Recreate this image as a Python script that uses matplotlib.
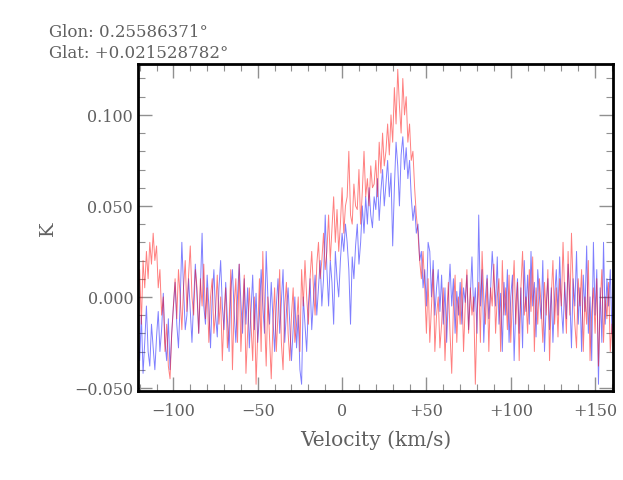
import numpy as np
import matplotlib
matplotlib.use("Agg")
import matplotlib.pyplot as plt
from matplotlib.ticker import MultipleLocator, FuncFormatter

glon = "0.25586371"
glat = "+0.021528782"

# channel velocities (km/s), 1 km/s channels
velocity = np.arange(-121, 161)

# antenna temperature in mK
blue_mk = [
    -20, -35, -10, -42, -25, -5, -30, -38, -15, -28,
    -40, -22, -8, -30, -18, 2, -25, -35, -12, -40,
    -20, -5, 8, -15, -28, -3, 30, 5, -18, -10,
    10, -8, -25, -2, 18, 0, -20, 5, 35, -5,
    -15, 12, -5, -28, 0, 15, -10, -22, 5, 20,
    -5, -18, 8, -12, -30, 3, 15, -8, -25, 0,
    18, -3, -20, 10, -15, 5, -28, -8, 12, -18,
    2, -25, -10, 15, -5, -20, 25, 0, -15, 8,
    -12, -30, -5, 10, -20, -2, 15, -25, -8, 5,
    -15, -35, -18, 0, -28, -10, -40, -48, 0, -15,
    -30, -5, 10, -18, -2, 12, -10, 5, 20, -5,
    10, 45, 15, -5, 20, 8, -15, 25, 10, 0,
    20, 35, 25, 40, 30, 15, -15, 22, 10, 28,
    40, 18, 30, 50, 35, 55, 40, 60, 45, 38,
    55, 48, 65, 42, 58, 70, 50, 62, 75, 55,
    68, 28, 60, 85, 72, 50, 78, 88, 70, 82,
    65, 75, 55, 42, 50, 35, 40, 20, 25, 5,
    15, -5, 30, 25, 0, 20, -10, 5, 15, -8,
    12, -15, 5, -25, 0, 18, -5, 10, -20, 3,
    -10, 8, -15, 5, -3, 12, -18, 0, 22, -8,
    5, -20, 45, -5, 15, -25, 0, 12, -12, 3,
    25, 10, -5, 22, -15, 2, -30, 8, -10, 15,
    -25, 0, 12, -35, -5, 10, -20, 5, -28, 20,
    -8, 12, -15, 25, -5, 8, -22, 15, 0, -12,
    20, -30, -5, 10, -18, 5, -25, 0, 15, -10,
    22, -5, -20, 8, -12, 18, 0, -28, 10, -5,
    25, -15, 5, -30, 12, -8, 28, -20, 0, -35,
    30, -10, 15, -48, 5, -25, 30, -15, 10, -5,
    15, -20,
]

red_mk = [
    0, 15, -15, 20, 5, 25, 10, 30, 18, 35,
    20, 28, 5, 15, -10, 0, -30, -15, -38, -45,
    -20, -5, 10, -12, 15, 0, -18, 5, 20, -8,
    12, 28, 0, -10, 15, 5, -20, 10, -5, 18,
    -12, 5, -25, 0, 10, -20, -8, 12, -15, 0,
    -35, -10, 5, -28, -15, 15, -40, -5, 10, -25,
    18, -30, -8, 12, -42, -20, 5, -15, -35, 0,
    -48, -20, 10, -30, 25, -10, -38, 0, -22, -45,
    -15, 5, -30, -10, 15, -25, -40, -5, 8, -20,
    -35, -10, 5, -25, -15, 0, -30, 15, -5, 20,
    0, -15, 10, 25, 5, -10, 18, 30, 10, 20,
    35, 15, 25, 45, 20, 38, 55, 30, 48, 25,
    40, 60, 35, 50, 55, 80, 45, 40, 62, 50,
    48, 70, 40, 58, 80, 55, 65, 50, 72, 60,
    62, 75, 55, 85, 68, 90, 72, 80, 95, 78,
    100, 85, 115, 95, 125, 105, 90, 120, 100, 110,
    85, 95, 75, 80, 60, 45, 35, 20, 10, 25,
    5, -20, 10, -25, -5, 15, -30, -10, 0, -28,
    -15, 5, -35, -10, 8, -20, -42, -5, 12, -25,
    0, -15, 10, -30, -5, 15, -20, 5, -10, 0,
    -48, -10, 8, -25, 25, 0, -15, 10, -30, 5,
    -5, 18, -20, 0, 10, -30, 20, -10, 5, -18,
    12, -25, 0, 20, -15, 8, -35, 5, 25, -10,
    0, -20, 15, -8, 22, -30, 5, -15, 10, -5,
    -25, 8, -10, 15, -35, 0, 20, -15, 5, -22,
    10, -5, 30, 0, -20, 25, -10, 35, 5, -15,
    -28, 10, -5, 15, -30, 0, -15, 20, -35, -8,
    5, -20, 10, -38, -5, 15, -25, 0, -12, 8,
    -30, -15,
]

blue = np.array(blue_mk) / 1000.0
red = np.array(red_mk) / 1000.0

plt.rcParams['font.family'] = ['DejaVu Serif']
grey = '#606060'

fig = plt.figure(figsize=(6.23, 4.81), dpi=100)
ax = fig.add_axes([0.2215, 0.185, 0.7624, 0.68])

ax.plot(velocity, blue, color='#0000ff', lw=0.7, alpha=0.5)
ax.plot(velocity, red, color='#ff0000', lw=0.7, alpha=0.5)

ax.set_xlim(-121, 160.6)
ax.set_ylim(-0.0517, 0.128)

ax.xaxis.set_major_locator(MultipleLocator(50))
ax.xaxis.set_minor_locator(MultipleLocator(10))
ax.yaxis.set_major_locator(MultipleLocator(0.05))
ax.yaxis.set_minor_locator(MultipleLocator(0.01))


def xfmt(v, pos):
    v = int(round(v))
    if v > 0:
        return '+%d' % v
    if v < 0:
        return '\u2212%d' % -v
    return '0'


def yfmt(v, pos):
    s = '%.3f' % abs(v)
    return ('\u2212' + s) if v < -1e-9 else s


ax.xaxis.set_major_formatter(FuncFormatter(xfmt))
ax.yaxis.set_major_formatter(FuncFormatter(yfmt))

ax.tick_params(which='both', direction='in', top=True, right=True,
               color='#909090', labelcolor=grey, labelsize=11.5)
ax.tick_params(which='major', length=10, width=1)
ax.tick_params(which='minor', length=5, width=0.8)
ax.tick_params(axis='x', pad=8)
for sp in ax.spines.values():
    sp.set_linewidth(2)
    sp.set_color('black')

ax.set_xlabel('Velocity (km/s)', color=grey, fontsize=14.5, labelpad=7)
ax.set_ylabel('K', color=grey, fontsize=14, labelpad=12)

fig.text(0.079, 0.933, 'Glon: ' + glon + '\u00b0', color=grey, fontsize=12,
         va='center')
fig.text(0.079, 0.889, 'Glat: ' + glat + '\u00b0', color=grey, fontsize=12,
         va='center')

fig.savefig('out.png', dpi=100)
